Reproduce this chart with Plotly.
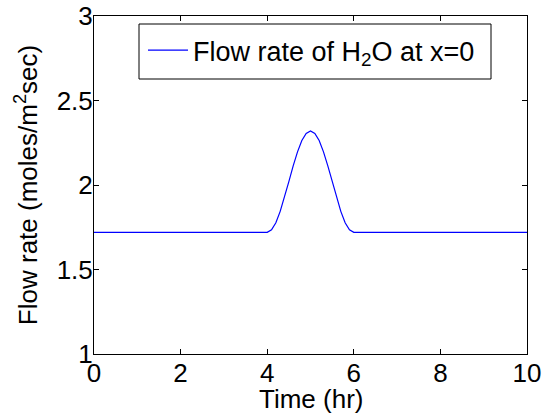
import plotly.graph_objects as go

# Data
time_hr = [0.0, 1.0, 2.0, 3.0, 4.0, 4.1, 4.2, 4.3, 4.4, 4.5, 4.6, 4.7, 4.8, 4.9,
           5.0, 5.1, 5.2, 5.3, 5.4, 5.5, 5.6, 5.7, 5.8, 5.9, 6.0, 7.0, 8.0, 9.0, 10.0]
flow_h2o = [1.72, 1.72, 1.72, 1.72, 1.72, 1.735, 1.777, 1.844, 1.927, 2.02, 2.113,
            2.196, 2.263, 2.305, 2.32, 2.305, 2.263, 2.196, 2.113, 2.02, 1.927,
            1.844, 1.777, 1.735, 1.72, 1.72, 1.72, 1.72, 1.72]

x_ticks = [0, 2, 4, 6, 8, 10]
y_ticks = [1, 1.5, 2, 2.5, 3]
y_ticklabels = ["1", "1.5", "2", "2.5", "3"]
x_title = "Time (hr)"
y_title = "Flow rate (moles/m<sup>2</sup>sec)"

FONT = "Liberation Sans, Arial, Helvetica, sans-serif"
FS = 26

fig = go.Figure()
fig.add_trace(go.Scatter(
    x=time_hr, y=flow_h2o, mode="lines",
    line=dict(color="#0000ff", width=1.2),
    name="Flow rate of H<sub>2</sub>O at x=0",
))

W, H = 545, 417
ml, mr, mt, mb = 94, 18, 16, 63
pw, ph = W - ml - mr, H - mt - mb

fig.update_layout(
    width=W, height=H,
    margin=dict(l=ml, r=mr, t=mt, b=mb, pad=0),
    paper_bgcolor="white", plot_bgcolor="white",
    font=dict(family=FONT, size=FS, color="black"),
    showlegend=True,
    legend=dict(
        x=(143 - ml) / pw, y=1 - (26 - mt) / ph, xanchor="left", yanchor="top",
        bgcolor="rgba(0,0,0,0)", borderwidth=0,
        font=dict(family=FONT, size=27, color="black"),
        itemwidth=40,
    ),
    xaxis=dict(
        range=[0, 10], tickvals=x_ticks, ticktext=[str(v) for v in x_ticks],
        ticks="inside", ticklen=5, tickcolor="black", tickwidth=1,
        showline=True, linecolor="black", linewidth=1, mirror="ticks",
        showgrid=False, zeroline=False,
        tickfont=dict(family=FONT, size=FS), ticklabelstandoff=-4,
        automargin=False,
    ),
    yaxis=dict(
        range=[1, 3], tickvals=y_ticks, ticktext=y_ticklabels,
        ticks="inside", ticklen=5, tickcolor="black", tickwidth=1,
        showline=True, linecolor="black", linewidth=1, mirror="ticks",
        showgrid=False, zeroline=False,
        tickfont=dict(family=FONT, size=FS), ticklabelstandoff=-5,
        title=dict(text=y_title, font=dict(family=FONT, size=FS), standoff=11),
        automargin=False,
    ),
    annotations=[dict(
        text=x_title, xref="paper", yref="paper",
        x=0.5, y=-(399 - (H - mb)) / ph, xanchor="center", yanchor="middle",
        showarrow=False, font=dict(family=FONT, size=FS, color="black"),
    )],
    shapes=[dict(
        type="rect", xref="paper", yref="paper",
        x0=(139 - ml) / pw, x1=(491 - ml) / pw,
        y0=1 - (79 - mt) / ph, y1=1 - (24 - mt) / ph,
        line=dict(color="black", width=1), fillcolor="rgba(0,0,0,0)",
        layer="above",
    )],
)

fig.write_html("out.html", config={"displayModeBar": False},
               post_script="document.body.style.margin='0';")
